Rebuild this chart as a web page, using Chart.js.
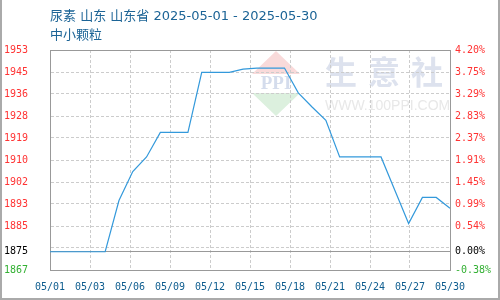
<!DOCTYPE html>
<html>
<head>
<meta charset="utf-8">
<script src="https://cdn.jsdelivr.net/npm/chart.js@4/dist/chart.umd.min.js"></script>
<style>
  html, body { margin: 0; padding: 0; background: #fff; }
  #wrap { position: relative; width: 500px; height: 300px; overflow: hidden; }
  #c { position: absolute; left: 0; top: 0; }
  .ttl { position: absolute; left: 50px; font: 13px "DejaVu Sans", "Noto Sans CJK SC", sans-serif; color: #1c6496; line-height: 19px; white-space: nowrap; }
  #frame { position: absolute; left: 0; top: 0; width: 500px; height: 300px; box-sizing: border-box; border: 2px solid #aaa; border-top: none; pointer-events: none; }
</style>
</head>
<body>
<div id="wrap">
  <canvas id="c" width="500" height="300"></canvas>
  <div class="ttl" style="top:6px">尿素 山东 山东省 2025-05-01 - 2025-05-30</div>
  <div class="ttl" style="top:25px">中小颗粒</div>
  <div id="frame"></div>
</div>
<script>
// ---- data ----
const dates = ['05/01','05/02','05/03','05/04','05/05','05/06','05/07','05/08','05/09','05/10',
               '05/11','05/12','05/13','05/14','05/15','05/16','05/17','05/18','05/19','05/20',
               '05/21','05/22','05/23','05/24','05/25','05/26','05/27','05/28','05/29','05/30'];
const prices = [1875, 1875, 1875, 1875, 1875, 1895, 1906.3, 1912, 1921.6, 1921.6,
                1921.6, 1945, 1945, 1945, 1946.3, 1946.7, 1946.7, 1946.7, 1937, 1931.5,
                1926.3, 1912, 1912, 1912, 1912, 1899, 1886, 1896.2, 1896.2, 1892];
const xTickLabels = ['05/01','05/03','05/06','05/09','05/12','05/15','05/18','05/21','05/24','05/27','05/30'];
const baseValue = 1875;
const yMinPct = -0.38;
const yMaxPct = 4.20;
// left/right tick labels, bottom to top (second gridline carries no label)
const leftTickLabels  = ['1867','','1885','1893','1902','1910','1919','1928','1936','1945','1953'];
const rightTickLabels = ['-0.38%','','0.54%','0.99%','1.45%','1.91%','2.37%','2.83%','3.29%','3.75%','4.20%'];
const baseLeftLabel = '1875';
const baseRightLabel = '0.00%';

// ---- derived ----
const yMin = baseValue * (1 + yMinPct / 100);
const yMax = baseValue * (1 + yMaxPct / 100);
const yStep = (yMax - yMin) / (leftTickLabels.length - 1);
const xMax = dates.length - 1;
const xStep = xMax / (xTickLabels.length - 1);

const RED = '#ff3333', GREEN = '#33b033', BLACK = '#000000';
const GRID = '#cccccc', EDGE = '#999999';
const tickFont = { family: '"DejaVu Sans Mono", "Liberation Mono", monospace', size: 10 };

function isBase(v) { return Math.abs(v - baseValue) < 1e-6; }
function yTicks(scale) {
  const t = [];
  for (let i = 0; i < leftTickLabels.length; i++) t.push({ value: yMin + i * yStep });
  t.push({ value: baseValue });
  t.sort((a, b) => a.value - b.value);
  scale.ticks = t;
}
function yIndex(v) { return Math.round((v - yMin) / yStep); }
function yColor(ctx) {
  const v = ctx.tick ? ctx.tick.value : 0;
  if (isBase(v)) return BLACK;
  return v > baseValue ? RED : GREEN;
}
function yGridColor(ctx) {
  if (!ctx.tick) return EDGE;
  const v = ctx.tick.value;
  if (isBase(v) || Math.abs(v - yMin) < 1e-6 || Math.abs(v - yMax) < 1e-6) return EDGE;
  return GRID;
}
function yDash(ctx) {
  if (!ctx.tick) return [];
  return yGridColor(ctx) === EDGE ? [] : [3, 2];
}

const watermark = {
  id: 'watermark',
  beforeDraw(chart) {
    const { ctx, chartArea: a } = chart;
    ctx.save();
    ctx.beginPath();
    ctx.rect(a.left, a.top, a.right - a.left, a.bottom - a.top);
    ctx.clip();
    // diamond logo
    ctx.fillStyle = '#f9dada';
    ctx.beginPath(); ctx.moveTo(276, 51); ctx.lineTo(300, 74); ctx.lineTo(252, 74); ctx.closePath(); ctx.fill();
    ctx.fillStyle = '#dcf0de';
    ctx.beginPath(); ctx.moveTo(252, 93); ctx.lineTo(300, 93); ctx.lineTo(276, 116); ctx.closePath(); ctx.fill();
    ctx.fillStyle = '#d4dcec';
    ctx.font = 'bold 19px "Liberation Serif", serif';
    ctx.textAlign = 'center'; ctx.textBaseline = 'middle';
    ctx.fillText('PPI', 276, 84);
    // brand text
    ctx.fillStyle = '#dde2ee';
    ctx.font = 'bold 32px "Noto Sans CJK SC", sans-serif';
    ctx.textAlign = 'left';
    ctx.fillText('生', 325, 72);
    ctx.fillText('意', 368, 72);
    ctx.fillText('社', 411, 72);
    ctx.fillStyle = '#e8e8e8';
    ctx.font = '14px "Liberation Sans", Arial, sans-serif';
    ctx.fillText('WWW.100PPI.COM', 325, 106);
    ctx.restore();
  }
};

new Chart(document.getElementById('c'), {
  type: 'line',
  data: {
    datasets: [{
      data: prices.map((v, i) => ({ x: i, y: v })),
      borderColor: '#3399db',
      borderWidth: 1.2,
      pointRadius: 0,
      tension: 0,
      fill: false
    }]
  },
  plugins: [watermark],
  options: {
    responsive: false,
    animation: false,
    layout: { padding: { top: 50, left: 0, right: 0, bottom: 0 } },
    plugins: { legend: { display: false }, tooltip: { enabled: false } },
    scales: {
      x: {
        type: 'linear',
        min: 0, max: xMax,
        afterBuildTicks(scale) {
          scale.ticks = xTickLabels.map((_, i) => ({ value: i * xStep }));
        },
        afterFit(scale) { scale.height = 30; },
        ticks: {
          autoSkip: false, maxRotation: 0, padding: 11,
          color: '#0e5d8f', font: tickFont,
          callback: (v, i) => xTickLabels[i]
        },
        grid: {
          drawTicks: false,
          color: (ctx) => (ctx.tick && (ctx.index === 0 || ctx.index === xTickLabels.length - 1)) ? EDGE : GRID
        },
        border: {
          display: true, color: EDGE, width: 1,
          dash: (ctx) => (ctx.tick && ctx.index > 0 && ctx.index < xTickLabels.length - 1) ? [3, 2] : []
        }
      },
      y: {
        position: 'left',
        min: yMin, max: yMax,
        afterBuildTicks: yTicks,
        afterFit(scale) { scale.width = 50; },
        ticks: {
          autoSkip: false, padding: 22, color: yColor, font: tickFont,
          callback: (v) => isBase(v) ? baseLeftLabel : leftTickLabels[yIndex(v)]
        },
        grid: { drawTicks: false, color: yGridColor },
        border: { display: true, color: EDGE, width: 1, dash: yDash }
      },
      y2: {
        position: 'right',
        min: yMin, max: yMax,
        afterBuildTicks: yTicks,
        afterFit(scale) { scale.width = 50; },
        ticks: {
          autoSkip: false, padding: 5, color: yColor, font: tickFont,
          callback: (v) => isBase(v) ? baseRightLabel : rightTickLabels[yIndex(v)]
        },
        grid: { drawTicks: false, drawOnChartArea: false },
        border: { display: true, color: EDGE, width: 1 }
      }
    }
  }
});
</script>
</body>
</html>
